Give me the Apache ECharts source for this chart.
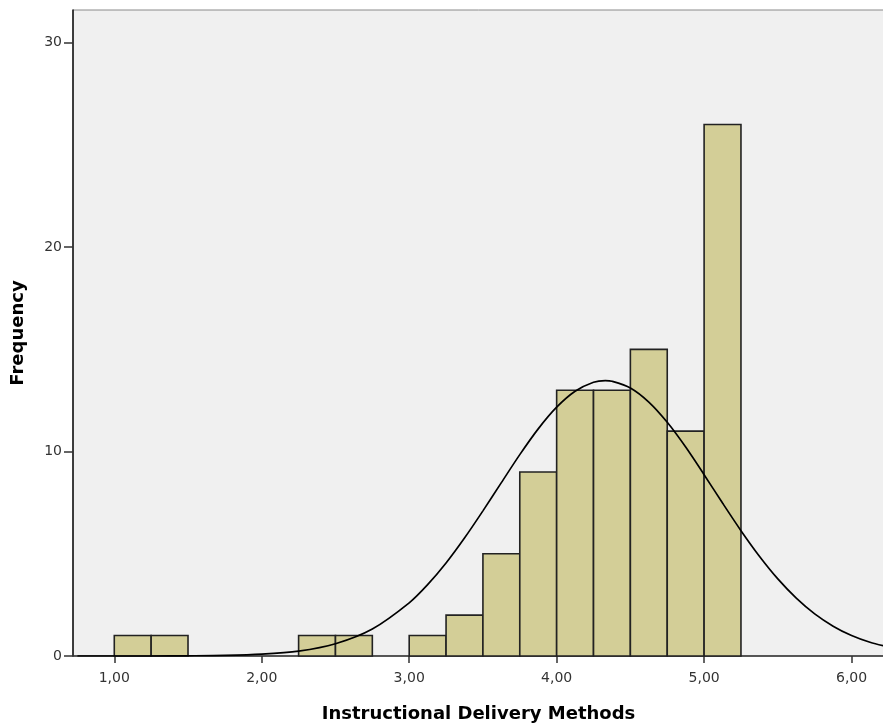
<!DOCTYPE html>
<html>
<head>
<meta charset="utf-8">
<script src="https://cdn.jsdelivr.net/npm/echarts@6/dist/echarts.min.js"></script>
<style>html,body{margin:0;padding:0;background:#fff}#c{width:883px;height:723px}</style>
</head>
<body>
<div id="c"></div>
<script>
var binStarts = [1.00, 1.25, 2.25, 2.50, 3.00, 3.25, 3.50, 3.75, 4.00, 4.25, 4.50, 4.75, 5.00];
var binCounts = [1, 1, 1, 1, 1, 2, 5, 9, 13, 13, 15, 11, 26];
var binWidth = 0.25;
var curveX = [0.75, 1.00, 1.25, 1.50, 1.75, 2.00, 2.25, 2.50, 2.75, 3.00, 3.125, 3.25, 3.375, 3.50, 3.625, 3.75, 3.875, 4.00, 4.125, 4.25, 4.33, 4.375, 4.50, 4.625, 4.75, 4.875, 5.00, 5.125, 5.25, 5.375, 5.50, 5.625, 5.75, 5.875, 6.00, 6.125, 6.25];
var curveY = [0.00, 0.00, 0.00, 0.01, 0.03, 0.09, 0.24, 0.60, 1.32, 2.60, 3.49, 4.55, 5.77, 7.10, 8.48, 9.85, 11.11, 12.17, 12.95, 13.39, 13.47, 13.44, 13.11, 12.42, 11.43, 10.22, 8.87, 7.48, 6.13, 4.88, 3.77, 2.83, 2.06, 1.46, 1.00, 0.67, 0.44];
var xTicks = [1, 2, 3, 4, 5, 6];
var yTicks = [0, 10, 20, 30];

var barData = binStarts.map(function (s, i) { return [s, s + binWidth, binCounts[i]]; });
var lineData = curveX.map(function (x, i) { return [x, curveY[i]]; });

var chart = echarts.init(document.getElementById('c'), null, {renderer: 'canvas'});
chart.setOption({
  animation: false,
  backgroundColor: '#ffffff',
  grid: {left: 73, top: 10, right: -1, bottom: 67, outerBoundsMode: 'none', containLabel: false,
    show: true, backgroundColor: '#F0F0F0', borderColor: '#8a8a8a', borderWidth: 1},
  xAxis: {
    type: 'value', min: 0.72, max: 6.22,
    name: 'Instructional Delivery Methods', nameLocation: 'middle', nameGap: 49,
    nameTextStyle: {fontFamily: 'DejaVu Sans', fontWeight: 'bold', fontSize: 18, color: '#000'},
    splitLine: {show: false},
    axisLine: {lineStyle: {color: '#333', width: 1.5}},
    axisTick: {show: true, length: 7, lineStyle: {color: '#333', width: 1.5}, customValues: xTicks},
    axisLabel: {fontFamily: 'DejaVu Sans', fontSize: 14, color: '#333', margin: 15, customValues: xTicks,
      formatter: function (v) { return v.toFixed(2).replace('.', ','); }}
  },
  yAxis: {
    type: 'value', min: 0, max: 31.6,
    name: 'Frequency', nameLocation: 'middle', nameGap: 46, nameRotate: 90,
    nameTextStyle: {fontFamily: 'DejaVu Sans', fontWeight: 'bold', fontSize: 18, color: '#000'},
    splitLine: {show: false},
    axisLine: {show: true, lineStyle: {color: '#111', width: 1.5}},
    axisTick: {show: true, length: 9, lineStyle: {color: '#333', width: 1.5}, customValues: yTicks},
    axisLabel: {fontFamily: 'DejaVu Sans', fontSize: 14, color: '#333', margin: 11, customValues: yTicks}
  },
  series: [
    {
      type: 'custom',
      data: barData,
      encode: {x: [0, 1], y: 2},
      renderItem: function (params, api) {
        var p0 = api.coord([api.value(0), api.value(2)]);
        var p1 = api.coord([api.value(1), 0]);
        return {
          type: 'rect',
          shape: {x: p0[0], y: p0[1], width: p1[0] - p0[0], height: p1[1] - p0[1]},
          style: {fill: '#D3CE97', stroke: '#222', lineWidth: 1.6}
        };
      },
      z: 2
    },
    {
      type: 'line',
      data: lineData,
      smooth: 0.3,
      showSymbol: false,
      lineStyle: {color: '#000', width: 1.7},
      z: 3
    }
  ]
});
</script>
</body>
</html>
